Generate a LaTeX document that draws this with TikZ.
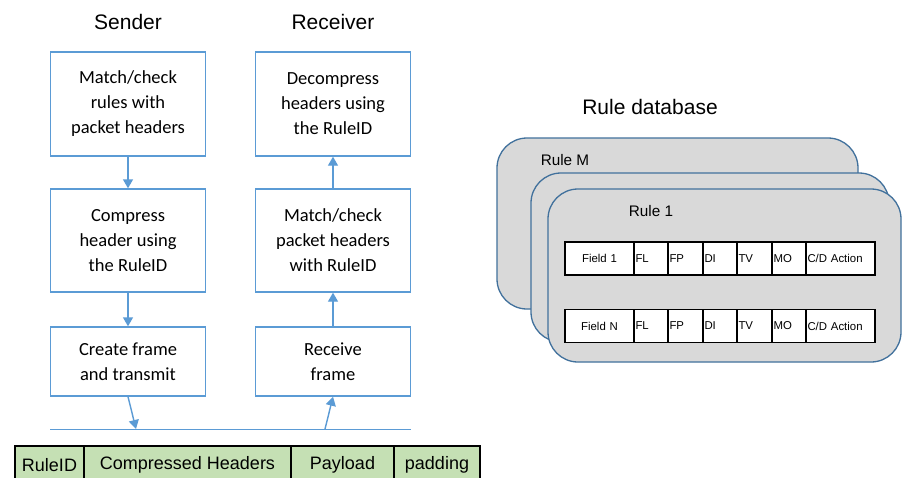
\documentclass[tikz,border=0pt]{standalone}
\usepackage{fontspec}
\setmainfont{Liberation Sans}
\newfontfamily\boxfont{Carlito}
\usetikzlibrary{positioning,arrows.meta}

\definecolor{flowblue}{HTML}{5B9BD5}
\definecolor{cardedge}{HTML}{41719C}
\definecolor{cardgrey}{HTML}{D9D9D9}
\definecolor{framegreen}{HTML}{C5E0B4}

\tikzset{
  stepbox/.style={draw=flowblue, line width=1.4pt, minimum width=155pt, align=center,
    font=\boxfont\fontsize{18.5}{25}\selectfont},
  flow/.style={draw=flowblue, line width=1.4pt, -{Triangle[width=10pt,length=9pt]}},
  title/.style={font=\fontsize{21}{24}\selectfont},
  rulecard/.style={draw=cardedge, fill=cardgrey, line width=1.3pt, rounded corners=30pt},
  fcell/.style={draw, fill=framegreen, line width=1.2pt, outer sep=0pt, minimum height=38pt,
    inner sep=0pt, anchor=west, font=\fontsize{18}{20}\selectfont},
  tcell/.style={draw, fill=white, line width=1.5pt, outer sep=0pt, minimum height=33pt,
    inner xsep=1.5pt, text width=#1, align=left, font=\fontsize{11.4}{13}\selectfont},
}

\begin{document}
\begin{tikzpicture}[x=1pt,y=-1pt]
\clip (0,0) rectangle (902,477);
\fill[white] (0,0) rectangle (902,477);

% titles
\node[title] (sender) at (128,22) {Sender};
\node[title] (receiver) at (333,22) {Receiver};
\node[title] (ruledb) at (650,107) {Rule database};

% sender side
\node[stepbox, minimum height=104pt] (s1) at (128,104) {Match/check\\rules with\\packet headers};
\node[stepbox, minimum height=103pt] (s2) at (128,240.5) {Compress\\header using\\the RuleID};
\node[stepbox, minimum height=69pt] (s3) at (128,361.5) {Create frame\\and transmit};

% receiver side
\node[stepbox, minimum height=104pt] (r1) at (333,104) {Decompress\\headers using\\the RuleID};
\node[stepbox, minimum height=103pt] (r2) at (333,240.5) {Match/check\\packet headers\\with RuleID};
\node[stepbox, minimum height=69pt] (r3) at (333,361.5) {Receive\\frame};

\draw[flow] (s1) -- (s2);
\draw[flow] (s2) -- (s3);
\draw[flow] (r2) -- (r1);
\draw[flow] (r3) -- (r2);

% medium
\coordinate (busL) at (50,429);
\coordinate (busR) at (411,429);
\coordinate (tx) at (136,429);
\coordinate (rx) at (325,429);
\draw[flowblue, line width=1pt] (busL) -- (busR);
\draw[flow] (s3.south) -- (tx);
\draw[flow] (rx) -- (r3.south);

% frame format
\node[fcell, minimum width=69pt] (fid) at (15,465) {RuleID};
\node[fcell, minimum width=207pt, right=0pt of fid] (fhdr) {Compressed Headers};
\node[fcell, minimum width=103pt, right=0pt of fhdr] (fpay) {Payload};
\node[fcell, minimum width=86pt, right=0pt of fpay] (fpad) {padding};

% rule database
\draw[rulecard] (497,138) rectangle (858,309);
\draw[rulecard] (531,173) rectangle (889,342);
\draw[rulecard] (548,189) rectangle (901,362);
\node[font=\fontsize{15.3}{18}\selectfont] (rulem) at (565,160) {Rule M};
\node[font=\fontsize{15.3}{18}\selectfont] (rule1) at (651,211) {Rule 1};

\foreach \y/\f/\n in {258.5/Field 1/a, 326/Field N/b}{
  \node[tcell=66pt, align=center, anchor=west] (\n0) at (565,\y) {\f};
  \node[tcell=31pt, right=0pt of \n0] (\n1) {FL};
  \node[tcell=32pt, right=0pt of \n1] (\n2) {FP};
  \node[tcell=31pt, right=0pt of \n2] (\n3) {DI};
  \node[tcell=32pt, right=0pt of \n3] (\n4) {TV};
  \node[tcell=31pt, right=0pt of \n4] (\n5) {MO};
  \node[tcell=66pt, right=0pt of \n5] (\n6) {C/D Action};
}
\end{tikzpicture}
\end{document}
